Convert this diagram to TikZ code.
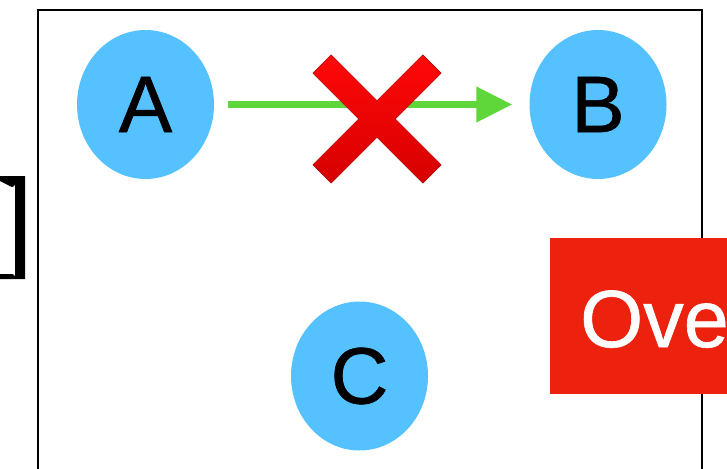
\documentclass[tikz,border=0pt]{standalone}
\usepackage{fontspec}
\setmainfont{Liberation Sans}
\newfontfamily\labelfont{Liberation Sans}[FakeBold=0.8]
\usetikzlibrary{arrows.meta,shapes.geometric}
\definecolor{nodeblue}{RGB}{86,193,255}
\definecolor{arrowgreen}{RGB}{95,214,58}
\definecolor{boxred}{RGB}{237,34,14}
\definecolor{crosstop}{RGB}{255,8,8}
\definecolor{crossbot}{RGB}{214,0,0}
\tikzset{
  vertex/.style={ellipse, fill=nodeblue, minimum width=137pt, minimum height=149pt,
    inner sep=0pt, font=\labelfont\fontsize{80}{80}\selectfont},
  frameline/.style={draw=black, line width=2.7pt},
  edge/.style={draw=arrowgreen, line width=7.5pt,
    -{Triangle[length=36pt,width=34pt]}},
  banner/.style={fill=boxred, draw=none},
  bannertext/.style={text=white, anchor=base west, inner sep=0pt,
    font=\labelfont\fontsize{81}{81}\selectfont}
}
\begin{document}
\begin{tikzpicture}[x=1pt, y=-1pt]
  \useasboundingbox (0,0) rectangle (727,468);
  \clip (0,0) rectangle (727,468);
  % closing bracket on the left edge
  \fill[black] (0,176) -- (25,176) -- (25,279) -- (0,279) -- (0,274)
    -- (12,274) arc[start angle=-90, end angle=0, radius=3] -- (15,184)
    arc[start angle=0, end angle=90, radius=3] -- (0,181) -- cycle;
  % outer frame
  \draw[frameline] (38,10) rectangle (702,490);
  % nodes
  \node[vertex] (A) at (145.5,104.5) {A};
  \node[vertex] (B) at (598,104.5) {B};
  \node[vertex] (C) at (359.5,376) {C};
  % crossed-out edge
  \draw[edge, shorten <=14pt, shorten >=17pt] (A) -- (B);
  \shade[top color=crosstop, bottom color=crossbot, draw=crossbot!80!black, line width=0.4pt]
    (377-64.2,119-45.8) -- (377-45.8,119-64.2) -- (377,119-18.4)
    -- (377+45.8,119-64.2) -- (377+64.2,119-45.8) -- (377+18.4,119)
    -- (377+64.2,119+45.8) -- (377+45.8,119+64.2) -- (377,119+18.4)
    -- (377-45.8,119+64.2) -- (377-64.2,119+45.8) -- (377-18.4,119) -- cycle;
  % overflowing banner
  \fill[banner] (550,238) rectangle (740,394);
  \node[bannertext] (ove) at (580,347) {Ove};
\end{tikzpicture}
\end{document}
